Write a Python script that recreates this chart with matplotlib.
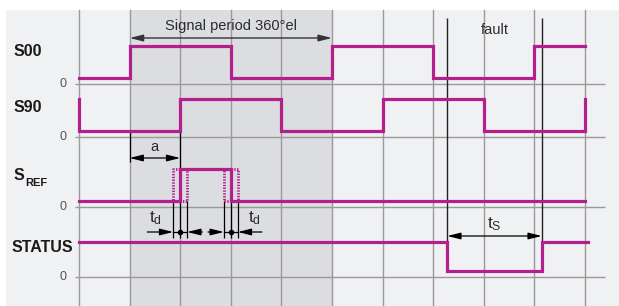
import matplotlib
matplotlib.use('Agg')
import matplotlib.pyplot as plt
from matplotlib.patches import Rectangle

# timing data, in degrees electrical (one grid step = 90 deg)
grid_steps = list(range(0, 901, 90))
period_start, period_end = 90, 450
s00_init, s00_edges = 0, [90, 270, 450, 630, 810]
s90_init, s90_edges = 1, [0, 180, 360, 540, 720, 900]
sref_init, sref_edges = 0, [180, 270]
status_init, status_edges = 1, [655, 823]
fault_times = [655, 823]
td = 12.5

row_names = ['S00', 'S90', 'SREF', 'STATUS']

# layout (pixels, y grows downwards)
W, H = 619, 306
X0, X1 = 79, 585
k = 900 / (X1 - X0)
row_zero = {'S00': 84, 'S90': 137, 'SREF': 207, 'STATUS': 277}
row_label_y = {'S00': 52, 'S90': 107, 'SREF': 176, 'STATUS': 247}
low_off, amp = 6, 32

MAG = '#b3208e'
GRID = '#9a9a9a'
TXT = '#2b2b2b'


def waveform(init, edges, t0=0, t1=900):
    xs, ys = [t0], [init]
    state = init
    for e in edges:
        xs += [e, e]
        ys += [state, 1 - state]
        state = 1 - state
    xs.append(t1)
    ys.append(state)
    return xs, ys


def to_y(name, states, a=amp):
    return [row_zero[name] - low_off - s * a for s in states]


fig = plt.figure(figsize=(W / 100, H / 100), dpi=100)
ax = fig.add_axes([0, 0, 1, 1])
ax.set_xlim(-X0 * k, (W - X0) * k)
ax.set_ylim(H, 0)
ax.axis('off')

top = (H - 10) / H
ax.add_patch(Rectangle((6 / W, 0), 1, top, transform=ax.transAxes, color='#f0f1f3', lw=0, zorder=0))
ax.axvspan(period_start, period_end, ymin=0, ymax=top, color='#dcdde0', lw=0, zorder=1)
for g in grid_steps:
    ax.axvline(g, ymin=0, ymax=top, color=GRID, lw=1.0, zorder=2)
for name in row_names:
    ax.hlines(row_zero[name], -7, 936, color=GRID, lw=1.0, zorder=2)
    ax.text(-12 * k, row_zero[name], '0', ha='right', va='center', fontsize=9,
            color='#555555', family='Liberation Sans')

# row labels
lab = dict(ha='left', va='center', fontsize=11.5, fontweight='bold', family='Liberation Sans', color='#1a1a1a')
for name in ['S00', 'S90', 'STATUS']:
    ax.text((12 - X0) * k if name == 'STATUS' else (14 - X0) * k, row_label_y[name], name, **lab)
ax.text((14 - X0) * k, row_label_y['SREF'], 'S', **lab)
ax.text((25 - X0) * k, row_label_y['SREF'] + 7, 'REF', ha='left', va='center', fontsize=8,
        fontweight='bold', family='Liberation Sans', color='#1a1a1a')

# dotted delayed / advanced SREF
for shift in (-td, td):
    xs, ys = waveform(sref_init, [e + shift for e in sref_edges], 150, 300)
    ax.plot(xs, to_y('SREF', ys), color=MAG, lw=2.0, ls=(0, (0.5, 0.5)), zorder=4)

# signals
sigs = [('S00', s00_init, s00_edges, 900, amp), ('S90', s90_init, s90_edges, 900, amp),
        ('SREF', sref_init, sref_edges, 900, amp), ('STATUS', status_init, status_edges, 905, 29)]
for name, init, edges, t1, a in sigs:
    xs, ys = waveform(init, edges, 0, t1)
    ax.plot(xs, to_y(name, ys, a), color=MAG, lw=2.3, solid_joinstyle='miter', zorder=5)

# signal period
ax.annotate('', xy=(period_start, 38), xytext=(period_end, 38),
            arrowprops=dict(arrowstyle='<|-|>,head_length=0.8,head_width=0.2', color='#333333', lw=1.0,
                            mutation_scale=10, shrinkA=0, shrinkB=0), zorder=6)
ax.text((period_start + period_end) / 2, 26, 'Signal period 360°el', ha='center', va='center',
        fontsize=10.5, color=TXT, family='Liberation Sans')

# a
ax.vlines(90, 130, 162, color='black', lw=0.9, zorder=3)
ax.vlines(180, 130, 170, color='black', lw=0.9, zorder=3)
ax.annotate('', xy=(90, 158), xytext=(180, 158),
            arrowprops=dict(arrowstyle='<|-|>,head_length=0.8,head_width=0.2', color='black', lw=0.9,
                            mutation_scale=10, shrinkA=0, shrinkB=0), zorder=6)
ax.text(135, 147, 'a', ha='center', va='center', fontsize=10.5, color=TXT, family='Liberation Sans')

# td markers
ya = 232
for e in sref_edges:
    ax.vlines([e - td, e, e + td], row_zero['SREF'] - low_off, 238, color='black', lw=0.9, zorder=3)
    ax.plot([e - td, e + td], [ya, ya], color='black', lw=0.9, zorder=6)
    ax.plot([e], [ya], 'o', color='black', ms=3, zorder=7)
arrow = dict(arrowstyle='-|>,head_length=0.8,head_width=0.2', color='black', lw=0.9, mutation_scale=10,
             shrinkA=0, shrinkB=0)
for e, left_len, right_len in [(180, 46, 27), (270, 28, 43)]:
    ax.annotate('', xy=(e - td, ya), xytext=(e - td - left_len, ya), arrowprops=arrow, zorder=6)
    ax.annotate('', xy=(e + td, ya), xytext=(e + td + right_len, ya), arrowprops=arrow, zorder=6)
for x in (136, 313):
    ax.text(x, 218, r'$\mathregular{t_d}$', ha='center', va='center', fontsize=12.5, color=TXT,
            family='Liberation Sans')

# fault and ts
ax.vlines(fault_times, 18, 242, color='#222222', lw=1.0, zorder=3)
ax.text(sum(fault_times) / 2, 30, 'fault', ha='center', va='center', fontsize=10.5, color=TXT,
        family='Liberation Sans')
ax.annotate('', xy=(fault_times[0], 236), xytext=(fault_times[1], 236),
            arrowprops=dict(arrowstyle='<|-|>,head_length=0.8,head_width=0.2', color='black', lw=0.9,
                            mutation_scale=10, shrinkA=0, shrinkB=0), zorder=6)
ax.text(sum(fault_times) / 2, 224, r'$\mathregular{t_S}$', ha='center', va='center', fontsize=12.5,
        color=TXT, family='Liberation Sans')

fig.savefig('out.png', dpi=100, facecolor='white')
